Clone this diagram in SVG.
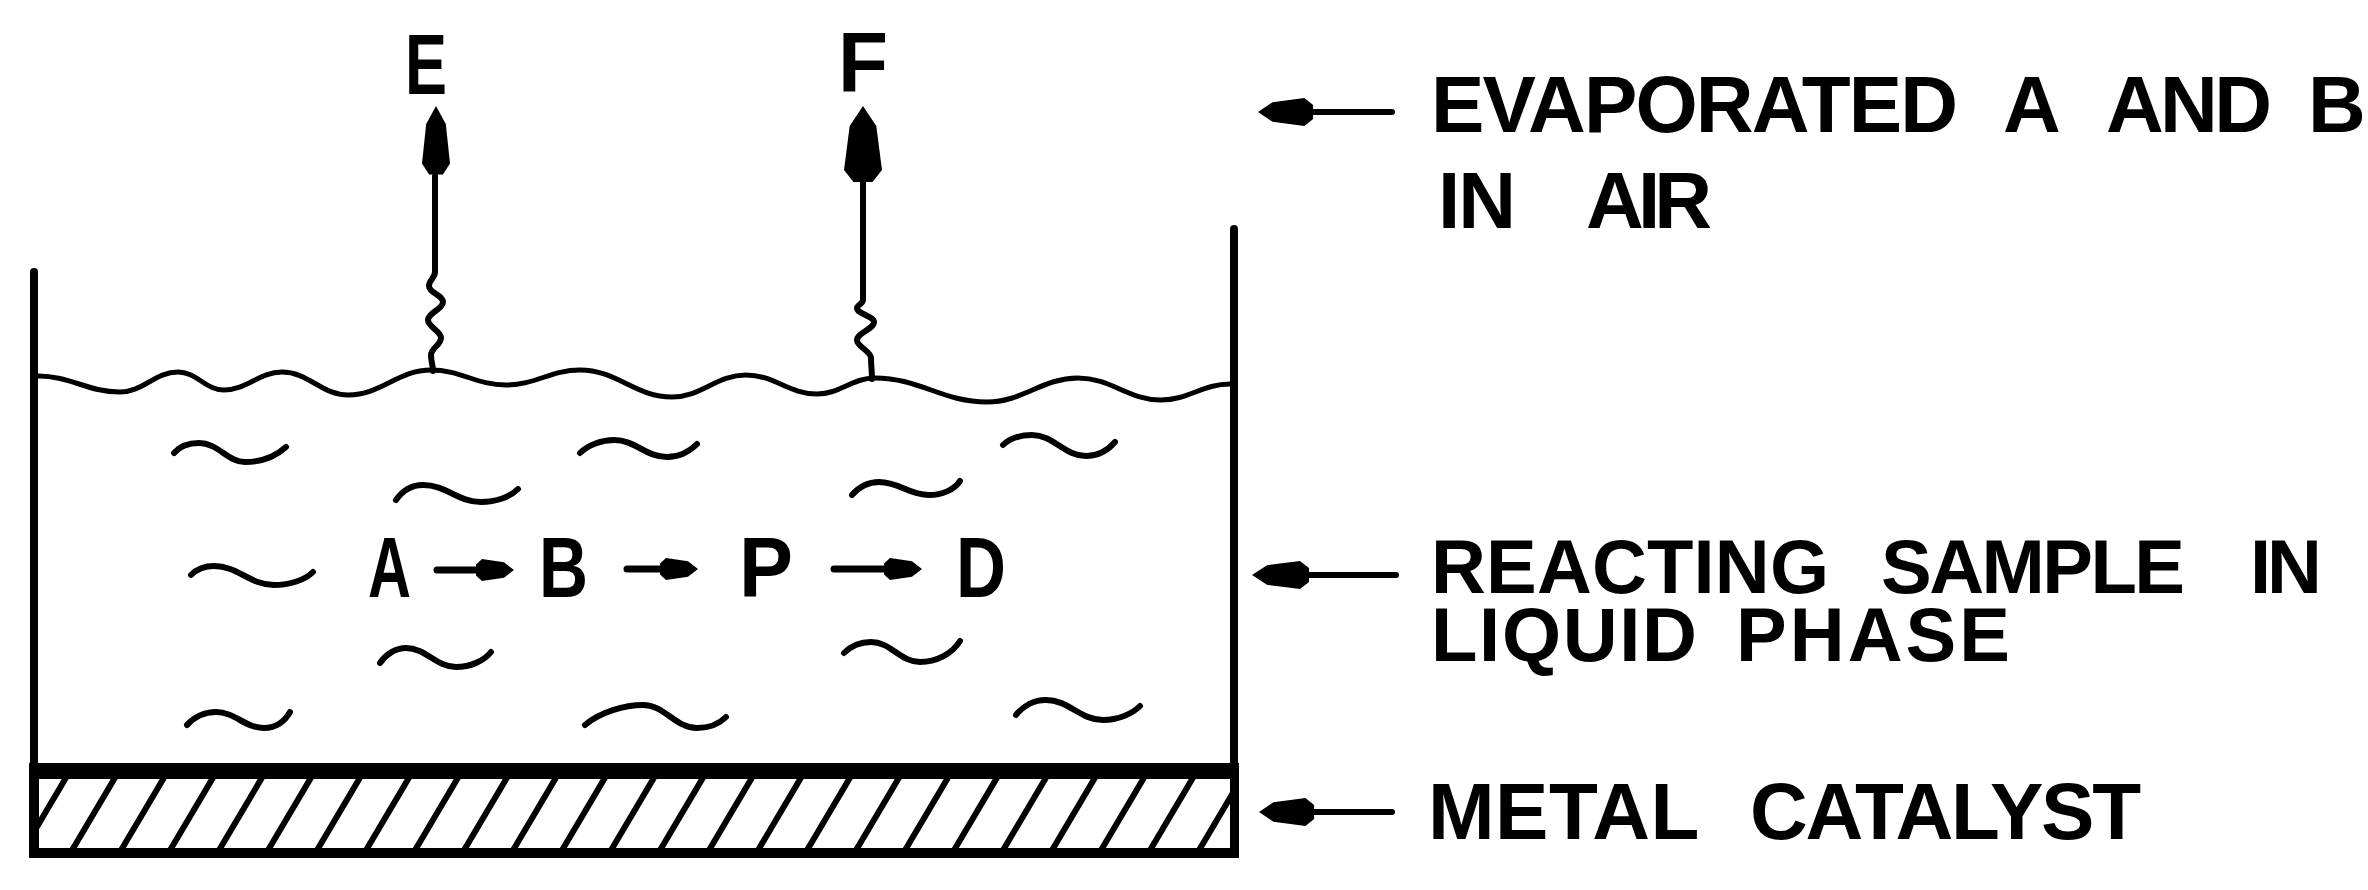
<svg xmlns="http://www.w3.org/2000/svg" xmlns:xlink="http://www.w3.org/1999/xlink" width="2368" height="890" viewBox="0 0 2368 890">
<style>
.ln{fill:none;stroke:#000;stroke-linecap:round;stroke-linejoin:round}
.wall{stroke-width:8}
.srf{stroke-width:5}
.sw{stroke-width:6}
.shaft{stroke-width:6}
.rx{stroke-width:7}
.hatch{stroke-width:6;stroke:#000;fill:none}
.lbl{font-family:"Liberation Sans",Arial,sans-serif;font-weight:bold;font-size:80px;fill:#000}
.mid{font-size:76px}
.big{font-family:"Liberation Sans",Arial,sans-serif;font-weight:bold;font-size:86px;fill:#000}
.hd{fill:#000}
</style>
<defs>
<path id="hd" d="M0,0 L-10,-7 L-32,-10 L-38,-5 L-38,5 L-32,10 L-10,7 Z"/>
<clipPath id="inner"><rect x="39" y="779" width="1191" height="69"/></clipPath>
</defs>
<rect width="2368" height="890" fill="#fff"/>
<g id="vessel">
<path class="ln wall" d="M34,272 L34,770"/>
<path class="ln wall" d="M1234,229 L1234,770"/>
</g>
<g id="catalyst">
<rect x="29" y="763" width="1210" height="95" fill="#000"/>
<rect x="39" y="779" width="1191" height="69" fill="#fff"/>
<path class="hatch" clip-path="url(#inner)" d="M22,852 L67,776 M71,852 L116,776 M120,852 L165,776 M169,852 L214,776 M218,852 L263,776 M267,852 L312,776 M316,852 L361,776 M365,852 L410,776 M414,852 L459,776 M463,852 L508,776 M512,852 L557,776 M561,852 L606,776 M610,852 L655,776 M659,852 L704,776 M708,852 L753,776 M757,852 L802,776 M806,852 L851,776 M855,852 L900,776 M904,852 L949,776 M953,852 L998,776 M1002,852 L1047,776 M1051,852 L1096,776 M1100,852 L1145,776 M1149,852 L1194,776 M1198,852 L1243,776 M1247,852 L1292,776"/>
</g>
<g id="surface">
<path class="ln srf" d="M38,376 C70.8,376 87.2,392 120,392 C143.2,392 154.8,372 178,372 C196.4,372 205.6,390 224,390 C247.2,390 258.8,372 282,372 C308.4,372 321.6,395 348,395 C381.2,395 397.8,370 431,370 C461,370 476,385 506,385 C535.6,385 550.4,370 580,370 C616.8,370 635.2,397 672,397 C701.6,397 716.4,375 746,375 C774.4,375 788.6,394 817,394 C840.2,394 851.8,378 875,378 C919.8,378 942.2,402 987,402 C1023.4,402 1041.6,378 1078,378 C1111.2,378 1127.8,400 1161,400 C1188.6,400 1202.4,384 1230,384"/>
</g>
<g id="swirls">
<path class="ln sw" d="M174,453 C180,446 190,443 199,443 C218,443 228,462 245,462 C262,462 276,456 286,447"/>
<path class="ln sw" d="M580,453 C588,445 602,440 614,440 C635,440 646,457 667,457 C680,457 690,451 697,444"/>
<path class="ln sw" d="M1003,445 C1010,438 1022,435 1032,435 C1054,435 1064,456 1086,456 C1098,456 1108,450 1115,442"/>
<path class="ln sw" d="M396,500 C403,490 413,485 423,485 C446,485 458,502 481,502 C496,502 510,497 518,489"/>
<path class="ln sw" d="M852,495 C859,487 869,482 879,482 C899,482 909,495 929,495 C942,495 954,490 960,481"/>
<path class="ln sw" d="M191,575 C197,569 205,566 214,566 C238,566 250,585 274,585 C290,585 305,580 313,572"/>
<path class="ln sw" d="M380,663 C386,654 396,648 406,648 C426,648 436,667 456,667 C470,667 484,661 491,652"/>
<path class="ln sw" d="M844,653 C851,646 861,642 871,642 C891,642 900,662 920,662 C936,662 952,654 960,641"/>
<path class="ln sw" d="M187,725 C194,717 205,712 216,712 C235,712 245,728 264,728 C276,728 285,721 290,712"/>
<path class="ln sw" d="M585,725 C600,712 625,705 643,705 C665,705 675,728 697,728 C710,728 720,723 726,717"/>
<path class="ln sw" d="M1016,715 C1023,706 1034,700 1046,700 C1069,700 1080,720 1103,720 C1118,720 1132,714 1140,706"/>
</g>
<g id="node-E">
<text class="big" x="405" y="94" textLength="42" lengthAdjust="spacingAndGlyphs">E</text>
</g>
<g id="node-F">
<text class="big" x="838" y="92" textLength="50" lengthAdjust="spacingAndGlyphs">F</text>
</g>
<g id="reaction">
<text class="big" x="368" y="597" textLength="43" lengthAdjust="spacingAndGlyphs">A</text>
<text class="big" x="539" y="597" textLength="49" lengthAdjust="spacingAndGlyphs">B</text>
<text class="big" x="739" y="597" textLength="54" lengthAdjust="spacingAndGlyphs">P</text>
<text class="big" x="956" y="597" textLength="50" lengthAdjust="spacingAndGlyphs">D</text>
</g>
<g id="label-evaporated">
<text class="lbl" y="132"><tspan x="1431" textLength="527" lengthAdjust="spacing">EVAPORATED</tspan> <tspan x="2003" textLength="53" lengthAdjust="spacing">A</tspan> <tspan x="2106" textLength="166" lengthAdjust="spacing">AND</tspan> <tspan x="2308" textLength="46" lengthAdjust="spacing">B</tspan></text>
<text class="lbl" y="228"><tspan x="1438" textLength="78" lengthAdjust="spacing">IN</tspan> <tspan x="1586" textLength="126" lengthAdjust="spacing">AIR</tspan></text>
</g>
<g id="label-reacting">
<text class="lbl mid" y="593"><tspan x="1431" textLength="398" lengthAdjust="spacing">REACTING</tspan> <tspan x="1881" textLength="304" lengthAdjust="spacing">SAMPLE</tspan> <tspan x="2250" textLength="72" lengthAdjust="spacing">IN</tspan></text>
<text class="lbl mid" y="661"><tspan x="1431" textLength="266" lengthAdjust="spacing">LIQUID</tspan> <tspan x="1736" textLength="274" lengthAdjust="spacing">PHASE</tspan></text>
</g>
<g id="label-catalyst">
<text class="lbl" y="839"><tspan x="1428" textLength="270" lengthAdjust="spacing">METAL</tspan> <tspan x="1750" textLength="391" lengthAdjust="spacing">CATALYST</tspan></text>
</g>
<g id="connectors">
<path class="ln shaft" d="M435,176 L435,272 C435,278 429,280 429,286 C429,293 443,295 443,302 C443,309 428,313 428,320 C428,327 441,331 441,338 C441,345 431,348 431,355 C431,362 433,365 433,371"/>
<use href="#hd" xlink:href="#hd" class="hd" transform="translate(436,106) rotate(-90) scale(1.8,1.4)"/>
<path class="ln shaft" d="M863,182 L863,300 C863,304 857,305 857,308 C857,314 874,316 874,322 C874,329 857,333 857,340 C857,347 871,351 871,358 C871,366 872,371 872,379"/>
<use href="#hd" xlink:href="#hd" class="hd" transform="translate(863,106) rotate(-90) scale(2,1.9)"/>
<path class="ln rx" d="M437,570 L478,570"/>
<use href="#hd" xlink:href="#hd" class="hd" transform="translate(514,570) scale(1,1.1)"/>
<path class="ln rx" d="M627,569 L664,569"/>
<use href="#hd" xlink:href="#hd" class="hd" transform="translate(698,569) scale(1,1.1)"/>
<path class="ln rx" d="M834,569 L886,569"/>
<use href="#hd" xlink:href="#hd" class="hd" transform="translate(922,569) scale(1,1.1)"/>
<path class="ln shaft" d="M1305,112 L1392,112"/>
<use href="#hd" xlink:href="#hd" class="hd" transform="translate(1258,112) rotate(180) scale(1.45,1.4)"/>
<path class="ln shaft" d="M1300,575 L1396,575"/>
<use href="#hd" xlink:href="#hd" class="hd" transform="translate(1252,575) rotate(180) scale(1.5,1.4)"/>
<path class="ln shaft" d="M1305,812 L1392,812"/>
<use href="#hd" xlink:href="#hd" class="hd" transform="translate(1259,812) rotate(180) scale(1.45,1.4)"/>
</g>
</svg>
